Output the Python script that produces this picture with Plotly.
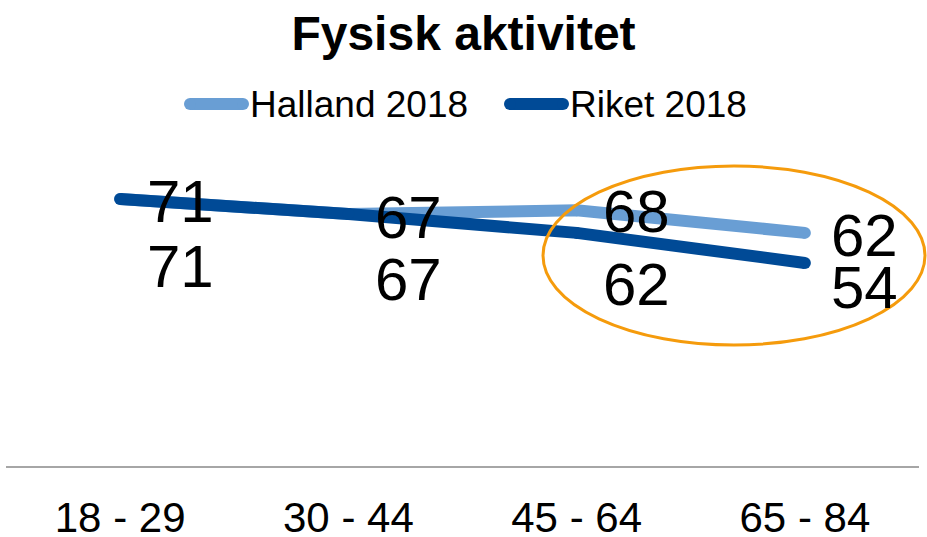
import plotly.graph_objects as go

categories = ["18 - 29", "30 - 44", "45 - 64", "65 - 84"]
halland_2018 = [71, 67, 68, 62]
riket_2018 = [71, 67, 62, 54]
series_names = ["Halland 2018", "Riket 2018"]

W, H = 927, 537
L, R, T, B = 6, 8, 90, 71
pw, ph = W - L - R, H - T - B

def px2x(px):
    return (px - L) / pw

def py2y(py):
    return (H - B - py) / ph

c_hall = "#699ED4"
c_rik = "#004A96"
font = "Liberation Sans, Arial, sans-serif"

fig = go.Figure()
for name, vals, col in [(series_names[0], halland_2018, c_hall), (series_names[1], riket_2018, c_rik)]:
    fig.add_trace(go.Scatter(
        x=categories, y=vals, name=name, mode="lines+markers",
        line=dict(color=col, width=12),
        marker=dict(color=col, size=12, line=dict(width=0)),
        showlegend=False, hoverinfo="skip",
    ))

annotations = []
# data labels
hall_yshift = [-2, -3, -1, -3]
rik_yshift = [-67, -65, -52, -25]
for i, c in enumerate(categories):
    annotations.append(dict(x=c, y=halland_2018[i], text=str(halland_2018[i]), showarrow=False,
                            xanchor="center", yanchor="middle", xshift=60, yshift=hall_yshift[i],
                            font=dict(family=font, size=60, color="#000000")))
    annotations.append(dict(x=c, y=riket_2018[i], text=str(riket_2018[i]), showarrow=False,
                            xanchor="center", yanchor="middle", xshift=60, yshift=rik_yshift[i],
                            font=dict(family=font, size=60, color="#000000")))

shapes = []
# custom legend
for (x0, x1, tx, name, col) in [(190, 243, 248, series_names[0], c_hall), (510, 563, 568, series_names[1], c_rik)]:
    yy = py2y(104)
    shapes.append(dict(type="line", xref="paper", yref="paper", x0=px2x(x0), x1=px2x(x1), y0=yy, y1=yy,
                       line=dict(color=col, width=12)))
    for cx in (x0, x1):
        shapes.append(dict(type="circle", xref="paper", yref="paper",
                           x0=px2x(cx - 6), x1=px2x(cx + 6), y0=py2y(98), y1=py2y(110),
                           fillcolor=col, line=dict(width=0)))
    annotations.append(dict(xref="paper", yref="paper", x=px2x(tx), y=yy, text=name, showarrow=False,
                            xanchor="left", yanchor="middle",
                            font=dict(family=font, size=37, color="#000000")))

# highlight ellipse
shapes.append(dict(type="circle", xref="paper", yref="paper",
                   x0=px2x(543), x1=px2x(925), y0=py2y(345), y1=py2y(166),
                   line=dict(color="#F59B0C", width=3), fillcolor="rgba(0,0,0,0)"))

fig.update_layout(
    width=W, height=H,
    margin=dict(l=L, r=R, t=T, b=B, autoexpand=False),
    paper_bgcolor="#FFFFFF", plot_bgcolor="#FFFFFF",
    title=dict(text="<b>Fysisk aktivitet</b>", x=0.5, xanchor="center", y=1 - 33 / H, yanchor="middle",
               font=dict(family=font, size=48, color="#000000")),
    xaxis=dict(type="category", range=[-0.5, 3.5], showgrid=False, zeroline=False, automargin=False,
               showline=True, linecolor="#A6A6A6", linewidth=1.5, ticks="",
               tickfont=dict(family=font, size=42, color="#000000"), ticklabelstandoff=14),
    yaxis=dict(range=[0, 100], showgrid=False, zeroline=False, showline=False, automargin=False,
               showticklabels=False, ticks=""),
    annotations=annotations,
    shapes=shapes,
    showlegend=False,
)

fig.write_html("out.html", config={"displayModeBar": False},
               post_script="document.body.style.margin='0';document.body.style.overflow='hidden';")
